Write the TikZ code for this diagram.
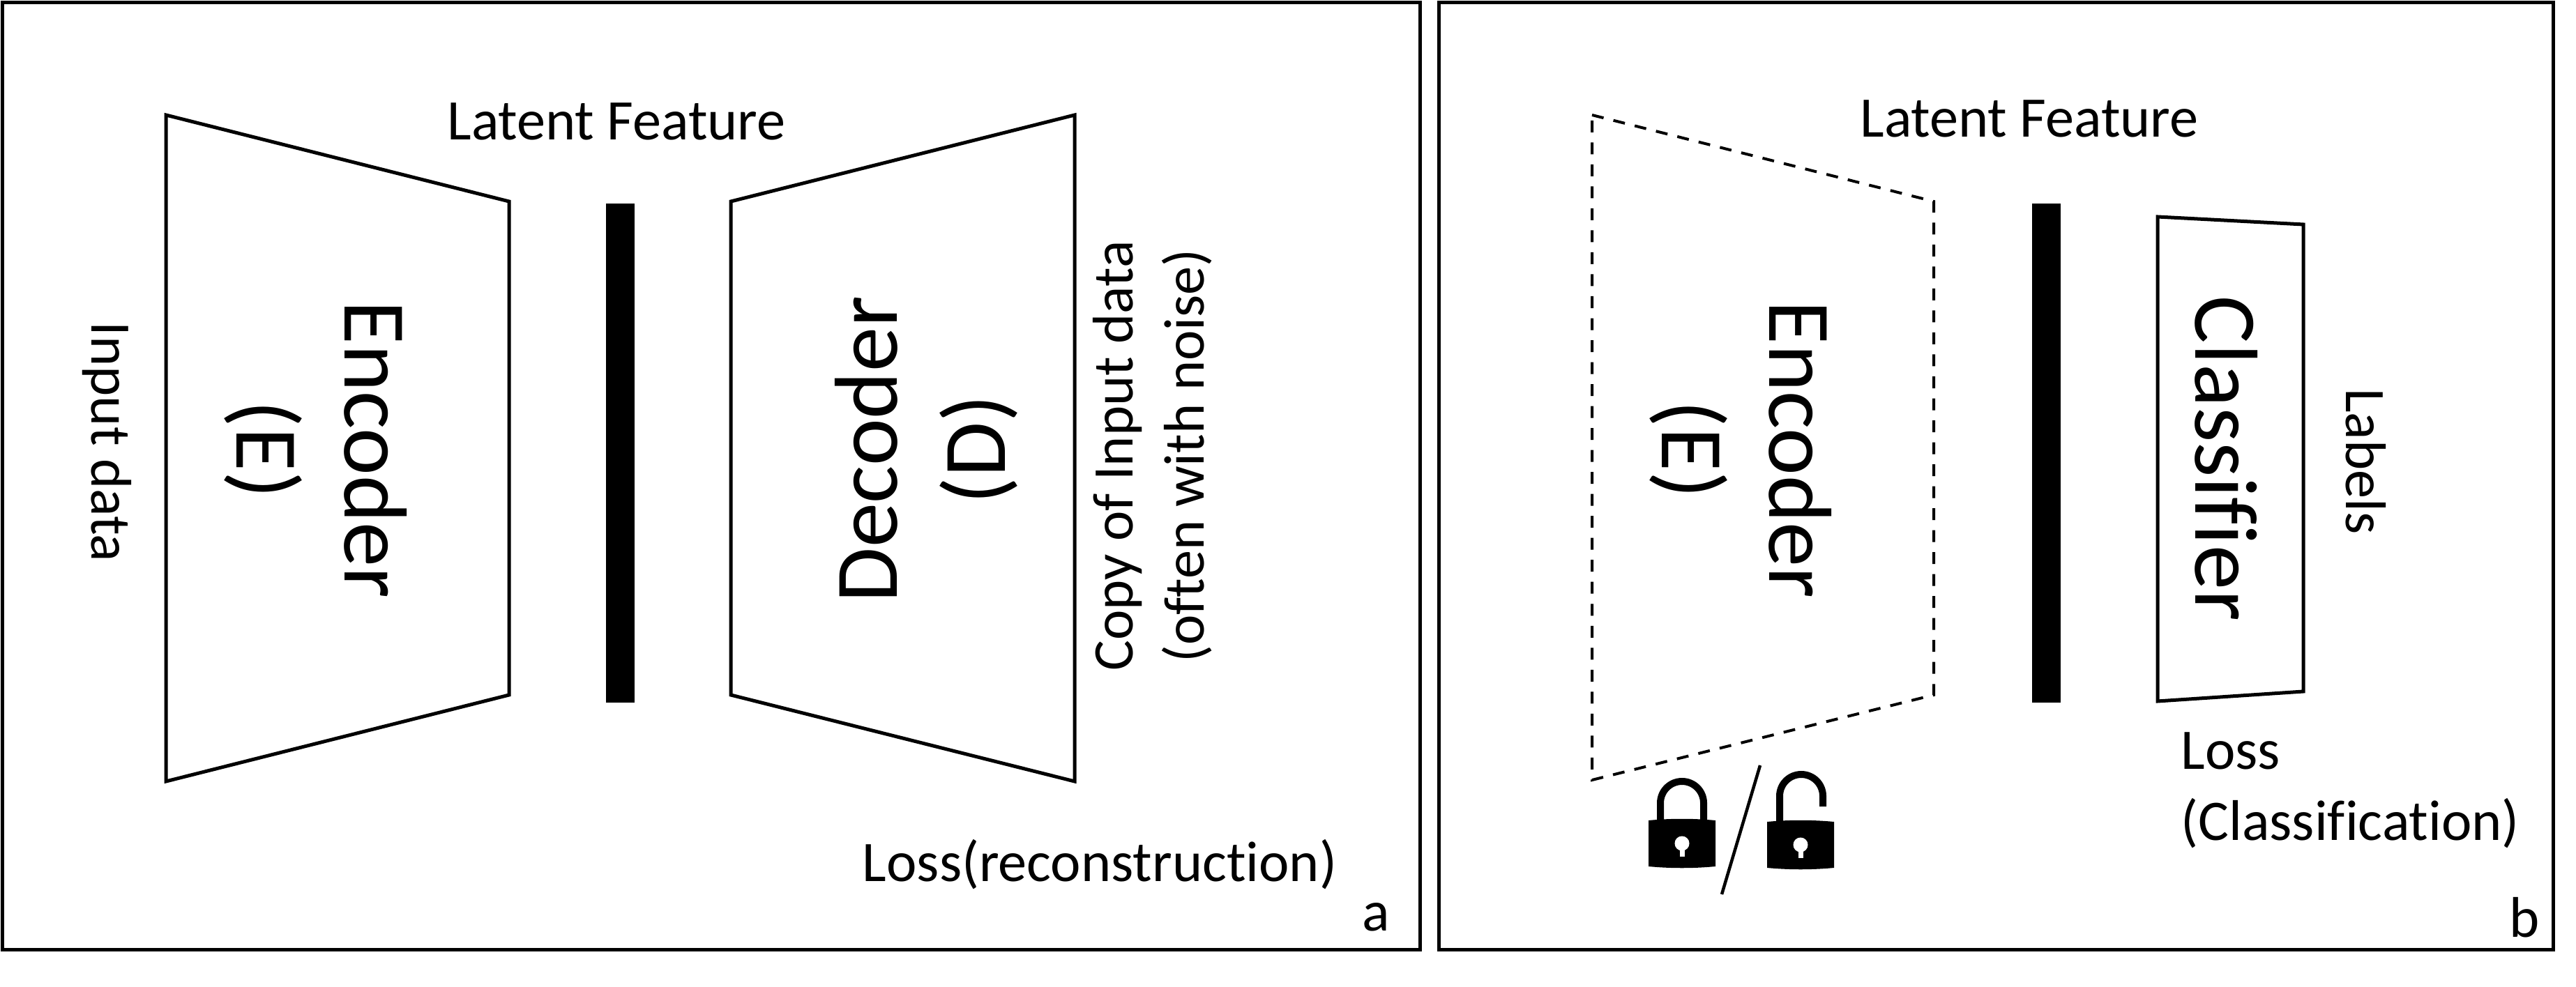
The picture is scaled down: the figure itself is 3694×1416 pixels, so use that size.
\documentclass[tikz,border=0pt]{standalone}
\usepackage{fontspec}
\setmainfont[Ligatures=NoCommon]{Carlito}
\tikzset{
 frame/.style={draw=black,line width=0.05cm,fill=white,outer sep=0pt,inner sep=0pt,anchor=north west},
 block/.style={draw=black,line width=0.05cm,line join=miter},
 dblock/.style={draw=black,line width=0.04cm,dash pattern=on 0.17cm off 0.145cm},
 latent/.style={fill=black,draw=none},
 big/.style={font=\fontsize{36.5}{44}\selectfont,align=center,inner sep=0pt},
 mid/.style={font=\fontsize{23.4}{29}\selectfont,align=center,inner sep=0pt},
 midl/.style={font=\fontsize{23.4}{29}\selectfont,align=left,inner sep=0pt},
 shackle/.style={draw=black,line width=0.1cm,line cap=butt},
 lockbody/.style={fill=black,draw=none},
 keyhole/.style={fill=white,draw=none},
}
\begin{document}
\begin{tikzpicture}[x=0.01cm,y=-0.01cm]
\useasboundingbox (0,0) rectangle (3694,1416);
\fill[white] (0,0) rectangle (3694,1416);
% frames
\node[frame,minimum width=20.32cm,minimum height=13.58cm] (fa) at (3.5,3.5) {};
\node[frame,minimum width=15.975cm,minimum height=13.58cm] (fb) at (2063.5,3.5) {};
% panel a
\coordinate (e1) at (238,165); \coordinate (e2) at (730,289); \coordinate (e3) at (730,997); \coordinate (e4) at (238,1121);
\draw[block] (e1)--(e2)--(e3)--(e4)--cycle;
\node[latent,minimum width=0.41cm,minimum height=7.16cm,inner sep=0pt] (ba) at (889,650) {};
\coordinate (d1) at (1048,289); \coordinate (d2) at (1541,165); \coordinate (d3) at (1541,1121); \coordinate (d4) at (1048,997);
\draw[block] (d1)--(d2)--(d3)--(d4)--cycle;
\node[big,rotate=-90] (enca) at (453,645) {Encoder\\(E)};
\node[big,rotate=90] (deca) at (1328,645) {Decoder\\(D)};
\node[mid] (lfa) at (884,174) {Latent Feature};
\node[mid,rotate=-90] (ina) at (153,634) {Input data};
\node[mid,rotate=90] (copy) at (1653,654) {Copy of Input data\\(often with noise)};
\node[mid] (lossa) at (1577,1240) {Loss(reconstruction)};
\node[mid] (la) at (1973,1316) {a};
% panel b
\coordinate (f1) at (2283,165); \coordinate (f2) at (2773,289); \coordinate (f3) at (2773,997); \coordinate (f4) at (2283,1119);
\draw[dblock] (f1)--(f2)--(f3)--(f4)--cycle;
\node[latent,minimum width=0.41cm,minimum height=7.16cm,inner sep=0pt] (bb) at (2934,650) {};
\coordinate (c1) at (3094,311); \coordinate (c2) at (3303,322); \coordinate (c3) at (3303,992); \coordinate (c4) at (3094,1006);
\draw[block] (c1)--(c2)--(c3)--(c4)--cycle;
\node[big,rotate=-90] (encb) at (2496,645) {Encoder\\(E)};
\node[big,rotate=-90] (cls) at (3193,658) {Classifier};
\node[mid] (lfb) at (2910,170) {Latent Feature};
\node[mid,rotate=-90] (lab) at (3393,662) {Labels};
\node[midl,anchor=north west] (lossb) at (3127,1050) {Loss\\(Classification)};
\node[mid] (lb) at (3620,1316) {b};
% closed lock
\draw[shackle] (2381,1182) -- (2381,1152) arc[start angle=180,end angle=360,radius=31] -- (2443,1182);
\fill[lockbody] (2364,1177) .. controls (2396,1174) and (2428,1174) .. (2460,1177) -- (2460,1243) .. controls (2428,1246) and (2396,1246) .. (2364,1243) -- cycle;
\fill[keyhole] (2412,1210) circle[radius=10.5];
\fill[keyhole] (2408.5,1212) rectangle (2415.5,1229);
% open lock
\draw[shackle] (2552,1184) -- (2552,1142) arc[start angle=180,end angle=360,radius=31] -- (2614,1157);
\fill[lockbody] (2534,1179) .. controls (2566,1176) and (2598,1176) .. (2630,1179) -- (2630,1245) .. controls (2598,1248) and (2566,1248) .. (2534,1245) -- cycle;
\fill[keyhole] (2582,1212) circle[radius=10.5];
\fill[keyhole] (2578.5,1214) rectangle (2585.5,1231);
% slash
\coordinate (s1) at (2524,1098); \coordinate (s2) at (2469,1283);
\draw[line width=0.045cm] (s1)--(s2);
\end{tikzpicture}
\end{document}
